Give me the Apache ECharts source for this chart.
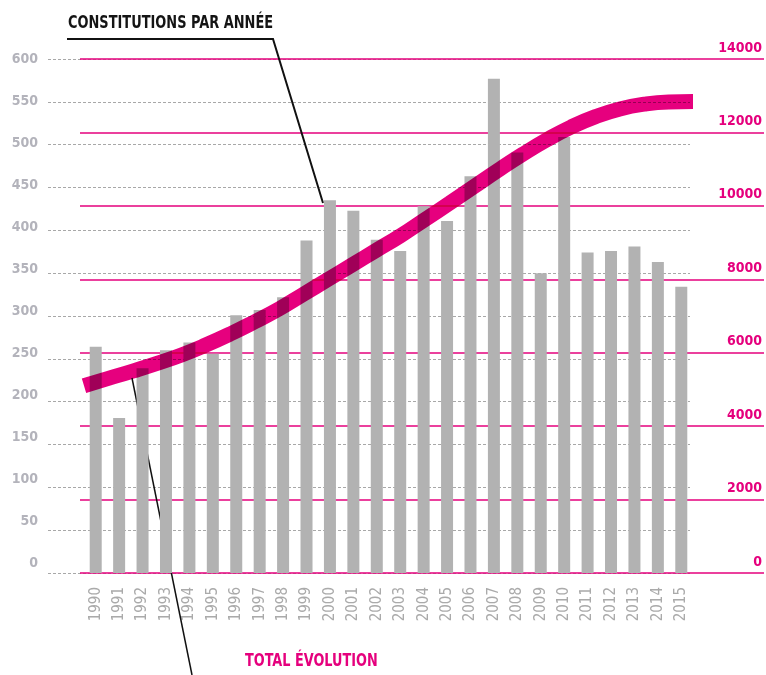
<!DOCTYPE html>
<html>
<head>
<meta charset="utf-8">
<script src="https://cdn.jsdelivr.net/npm/echarts@6/dist/echarts.min.js"></script>
<style>
  html, body { margin: 0; padding: 0; background: #fff; }
  #chart-container { width: 766px; height: 675px; }
</style>
</head>
<body>
<div id="chart-container"></div>
<script>
var years = ['1990', '1991', '1992', '1993', '1994', '1995', '1996', '1997', '1998', '1999',
  '2000', '2001', '2002', '2003', '2004', '2005', '2006', '2007', '2008', '2009',
  '2010', '2011', '2012', '2013', '2014', '2015'];

// constitutions par année (axe gauche)
var perYear = [264, 181, 239, 260, 269, 256, 301, 307, 322, 388,
  435, 423, 389, 376, 428, 411, 463, 577, 491, 350,
  509, 374, 376, 381, 363, 334];

// total évolution (axe droit)
var total = [5100, 5300, 5500, 5710, 5940, 6210, 6510, 6840, 7190, 7590,
  7990, 8390, 8790, 9190, 9630, 10070, 10520, 10970, 11400, 11800,
  12150, 12430, 12640, 12770, 12830, 12840];

var leftMax = 600, leftStep = 50;
var rightMax = 14000, rightStep = 2000;

var pink = '#e5007d';
var grey = '#b2b2b2';
var numFont = '"DejaVu Sans Condensed", "Liberation Sans Narrow", sans-serif';

var dom = document.getElementById('chart-container');
var myChart = echarts.init(dom, null, {
  renderer: 'canvas',
  useDirtyRect: false
});

var hiddenX = function (gridIndex) {
  return { type: 'value', gridIndex: gridIndex, min: 0, max: 1, show: false };
};

var option = {
  animation: false,
  backgroundColor: '#fff',
  grid: [
    { left: 84, right: 73, top: 59, bottom: 102 },   // bars + line
    { left: 48, right: 76, top: 59, bottom: 102 },   // grey dashed grid
    { left: 80, right: 2, top: 59, bottom: 102 },    // pink grid + right labels
    { left: 48, right: 76, top: 59, bottom: 112 }    // left labels
  ],
  xAxis: [
    {
      type: 'category',
      gridIndex: 0,
      data: years,
      boundaryGap: true,
      axisLine: { show: false },
      axisTick: { show: false },
      axisLabel: {
        rotate: 90,
        margin: 14,
        color: '#aaaaaa',
        fontFamily: numFont,
        fontSize: 15
      }
    },
    {
      type: 'category',
      gridIndex: 0,
      data: years,
      boundaryGap: false,
      show: false
    },
    hiddenX(1),
    hiddenX(2),
    hiddenX(3)
  ],
  yAxis: [
    { type: 'value', gridIndex: 0, min: 0, max: leftMax, show: false, splitLine: { show: false } },
    { type: 'value', gridIndex: 0, min: 0, max: rightMax, show: false, splitLine: { show: false } },
    {
      type: 'value',
      gridIndex: 1,
      min: 0,
      max: leftMax,
      interval: leftStep,
      axisLine: { show: false },
      axisTick: { show: false },
      axisLabel: { show: false },
      splitLine: { lineStyle: { color: '#a8a8a8', width: 1, type: [3, 2] } }
    },
    {
      type: 'value',
      gridIndex: 2,
      position: 'right',
      min: 0,
      max: rightMax,
      interval: rightStep,
      axisLine: { show: false },
      axisTick: { show: false },
      axisLabel: {
        inside: true,
        margin: 2,
        verticalAlign: 'bottom',
        padding: [0, 0, 4, 0],
        color: pink,
        fontFamily: numFont,
        fontWeight: 'bold',
        fontSize: 14,
        formatter: function (v) { return String(v); }
      },
      splitLine: { lineStyle: { color: pink, width: 1.5 } }
    },
    {
      type: 'value',
      gridIndex: 3,
      min: 0,
      max: leftMax,
      interval: leftStep,
      axisLine: { show: false },
      axisTick: { show: false },
      splitLine: { show: false },
      axisLabel: {
        margin: 10,
        color: '#b3b3bb',
        fontFamily: numFont,
        fontWeight: 'bold',
        fontSize: 14
      }
    }
  ],
  graphic: [
    {
      type: 'text',
      x: 68,
      y: 14,
      scaleX: 0.8,
      z: 5,
      style: {
        text: 'CONSTITUTIONS PAR ANNÉE',
        fill: '#141414',
        font: 'bold 18px ' + numFont,
        verticalAlign: 'top'
      }
    },
    {
      type: 'text',
      x: 245,
      y: 653,
      scaleX: 0.84,
      z: 5,
      style: {
        text: 'TOTAL ÉVOLUTION',
        fill: pink,
        font: 'bold 17px ' + numFont,
        verticalAlign: 'top'
      }
    },
    {
      type: 'polyline',
      z: 1,
      shape: { points: [[67, 39], [273, 39], [323, 203]] },
      style: { stroke: '#111', lineWidth: 2, fill: null }
    },
    {
      type: 'line',
      z: 1,
      shape: { x1: 132, y1: 378, x2: 192, y2: 675 },
      style: { stroke: '#111', lineWidth: 1.5 }
    }
  ],
  series: [
    {
      name: 'Constitutions par année',
      type: 'bar',
      xAxisIndex: 0,
      yAxisIndex: 0,
      data: perYear,
      barWidth: 12,
      z: 2,
      itemStyle: { color: grey }
    },
    {
      name: 'Total évolution',
      type: 'line',
      xAxisIndex: 1,
      yAxisIndex: 1,
      data: total,
      smooth: true,
      showSymbol: false,
      z: 3,
      blendMode: 'multiply',
      lineStyle: { color: '#e6007e', width: 15, cap: 'butt' }
    }
  ]
};

if (option && typeof option === 'object') {
  myChart.setOption(option);
}

window.addEventListener('resize', myChart.resize);
</script>
</body>
</html>
